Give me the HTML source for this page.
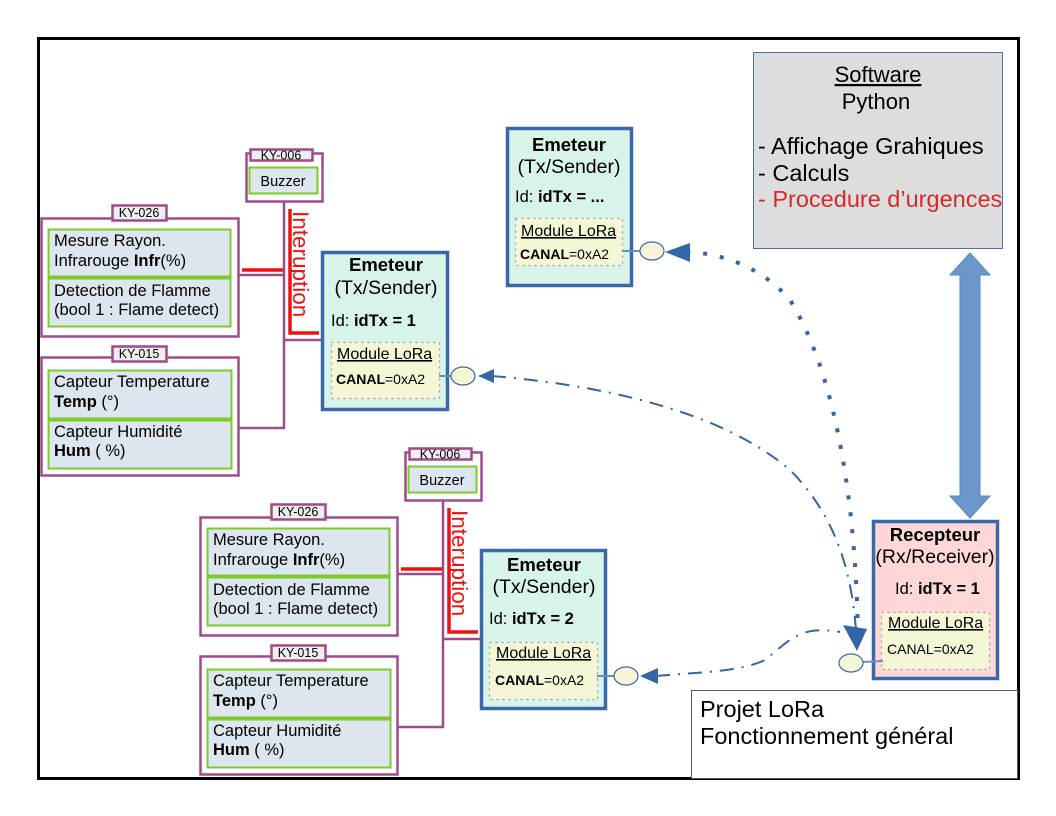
<!DOCTYPE html>
<html><head><meta charset="utf-8"><style>
html,body{margin:0;padding:0;background:#fff}
svg{display:block}
text{font-family:"Liberation Sans",sans-serif}
</style></head><body>
<svg width="1056" height="816" viewBox="0 0 1056 816" xmlns="http://www.w3.org/2000/svg">
<rect x="0" y="0" width="1056" height="816" fill="#fff"/>
<rect x="38.5" y="38.5" width="980" height="740" fill="#fff" stroke="#000" stroke-width="3"/>

<!-- Software box -->
<rect x="753.5" y="52.5" width="249" height="196" fill="#dddddd" stroke="#4a70a8" stroke-width="1"/>
<text x="878" y="82" font-size="22" text-anchor="middle" text-decoration="underline">Software</text>
<text x="876" y="109" font-size="22" text-anchor="middle">Python</text>
<text x="758" y="154" font-size="23.5">- Affichage Grahiques</text>
<text x="758" y="181" font-size="23.5">- Calculs</text>
<text x="758" y="207" font-size="23.5" fill="#d42a2a">- Procedure d’urgences</text>

<!-- Double arrow -->
<polygon points="970,253 990,275 980,275 980,496 990,496 970,518 950,496 960,496 960,275 950,275" fill="#6b97ca" stroke="#5a84b8" stroke-width="1"/>

<!-- connectors -->
<path d="M858,635 C856,520 840,380 790,300 C760,265 720,254 690,252" fill="none" stroke="#3465a4" stroke-width="4" stroke-dasharray="4,13"/>
<polygon points="665,252 690,243 690,262" fill="#3465a4"/>
<path d="M492,376 C600,385 720,410 790,470 C840,520 852,580 856,630" fill="none" stroke="#3465a4" stroke-width="2" stroke-dasharray="14,8,2,8"/>
<polygon points="478,376 494,369 494,383" fill="#3465a4"/>
<polygon points="843,625 867,629 857,651" fill="#3465a4"/>
<path d="M656,676 C700,672 740,672 765,660 C790,640 800,625 840,632" fill="none" stroke="#3465a4" stroke-width="2" stroke-dasharray="14,8,2,8"/>
<polygon points="640,676 658,668 658,684" fill="#3465a4"/>

<!-- Emeteur top -->
<rect x="507.5" y="128.5" width="124" height="157" fill="#d8f3ea" stroke="#3a68a8" stroke-width="3.5"/>
<text x="569" y="151" font-size="18.5" font-weight="bold" text-anchor="middle">Emeteur</text>
<text x="569" y="173" font-size="19.5" text-anchor="middle">(Tx/Sender)</text>
<text x="515" y="202" font-size="16.5">Id: <tspan font-weight="bold">idTx = ...</tspan></text>
<rect x="515.5" y="218.5" width="107" height="47" fill="#f5f6d6" stroke="#999" stroke-width="1.2" stroke-dasharray="2,4"/>
<text x="521" y="236" font-size="16" text-decoration="underline">Module LoRa</text>
<text x="520" y="259" font-size="14"><tspan font-weight="bold">CANAL</tspan>=0xA2</text>
<line x1="622" y1="251" x2="640" y2="251" stroke="#6a8fbf" stroke-width="2"/>
<ellipse cx="652" cy="251" rx="12" ry="9" fill="#f5f6d6" stroke="#3a68a8" stroke-width="1.2"/>

<!-- Emeteur 1 -->
<rect x="322.5" y="252.5" width="125" height="157" fill="#d8f3ea" stroke="#3a68a8" stroke-width="3.5"/>
<text x="386" y="271" font-size="18.5" font-weight="bold" text-anchor="middle">Emeteur</text>
<text x="386" y="294" font-size="19.5" text-anchor="middle">(Tx/Sender)</text>
<text x="331" y="326" font-size="16.5">Id: <tspan font-weight="bold">idTx = 1</tspan></text>
<rect x="331.5" y="342.5" width="108" height="56" fill="#f5f6d6" stroke="#999" stroke-width="1.2" stroke-dasharray="2,4"/>
<text x="337" y="359" font-size="16" text-decoration="underline">Module LoRa</text>
<text x="336" y="384" font-size="14"><tspan font-weight="bold">CANAL</tspan>=0xA2</text>
<line x1="439" y1="376" x2="452" y2="376" stroke="#6a8fbf" stroke-width="2"/>
<ellipse cx="463" cy="376" rx="12" ry="9" fill="#f5f6d6" stroke="#3a68a8" stroke-width="1.2"/>

<!-- Emeteur 2 -->
<rect x="481.5" y="550.5" width="124" height="158" fill="#d8f3ea" stroke="#3a68a8" stroke-width="3.5"/>
<text x="544" y="571" font-size="18.5" font-weight="bold" text-anchor="middle">Emeteur</text>
<text x="544" y="593" font-size="19.5" text-anchor="middle">(Tx/Sender)</text>
<text x="489" y="624" font-size="16.5">Id: <tspan font-weight="bold">idTx = 2</tspan></text>
<rect x="489.5" y="642.5" width="108" height="57" fill="#f5f6d6" stroke="#999" stroke-width="1.2" stroke-dasharray="2,4"/>
<text x="496" y="658" font-size="16" text-decoration="underline">Module LoRa</text>
<text x="495" y="685" font-size="14"><tspan font-weight="bold">CANAL</tspan>=0xA2</text>
<line x1="597" y1="676" x2="614" y2="676" stroke="#6a8fbf" stroke-width="2"/>
<ellipse cx="626" cy="676" rx="12" ry="9" fill="#f5f6d6" stroke="#3a68a8" stroke-width="1.2"/>

<!-- Recepteur -->
<rect x="873.5" y="521.5" width="124" height="157" fill="#ffd7d7" stroke="#3a68a8" stroke-width="3.5"/>
<text x="935" y="541" font-size="18.5" font-weight="bold" text-anchor="middle">Recepteur</text>
<text x="935" y="563" font-size="19.5" text-anchor="middle">(Rx/Receiver)</text>
<text x="895" y="594" font-size="16.5">Id: <tspan font-weight="bold">idTx = 1</tspan></text>
<rect x="881.5" y="612.5" width="108" height="57" fill="#f5f6d6" stroke="#999" stroke-width="1.2" stroke-dasharray="2,4"/>
<text x="888" y="628" font-size="16" text-decoration="underline">Module LoRa</text>
<text x="887" y="654" font-size="14">CANAL=0xA2</text>
<line x1="862" y1="662" x2="883" y2="661" stroke="#6a8fbf" stroke-width="2"/>
<ellipse cx="851" cy="663" rx="12" ry="9" fill="#f5f6d6" stroke="#3a68a8" stroke-width="1.2"/>

<!-- Title box -->
<rect x="691.5" y="690.5" width="326" height="88" fill="#fff" stroke="#555" stroke-width="1"/>
<text x="700" y="717" font-size="23.5">Projet LoRa</text>
<text x="700" y="744" font-size="23.5">Fonctionnement général</text>

<defs>
<g id="grp">
  <path d="M284,201 V428 H238" fill="none" stroke="#a04a8a" stroke-width="2.5"/>
  <path d="M238,275 H284" fill="none" stroke="#a04a8a" stroke-width="2.5"/>
  <path d="M284,340 H321" fill="none" stroke="#a04a8a" stroke-width="2.5"/>
  <path d="M242,270 H283" stroke="#ee1111" stroke-width="3.5"/>
  <path d="M290,209 V333 H319" fill="none" stroke="#ee1111" stroke-width="3.5"/>
  <text transform="translate(293,211) rotate(90)" font-size="22.5" fill="#ee1111">Interuption</text>
  <rect x="246.5" y="153.5" width="76" height="48" fill="#fff" stroke="#a04a8a" stroke-width="2.5"/>
  <rect x="250.5" y="149.5" width="62" height="11" fill="#eee" stroke="#a04a8a" stroke-width="2.5"/>
  <text x="281" y="159.5" font-size="12.5" text-anchor="middle">KY-006</text>
  <rect x="249.5" y="167.5" width="68" height="26" fill="#dde5ee" stroke="#7ccb2a" stroke-width="2"/>
  <text x="283" y="186" font-size="14.5" text-anchor="middle">Buzzer</text>
  <rect x="41.5" y="218.5" width="197" height="118" fill="#fff" stroke="#a04a8a" stroke-width="2.5"/>
  <rect x="112.5" y="205.5" width="54" height="15" fill="#eee" stroke="#a04a8a" stroke-width="2.5"/>
  <text x="139" y="217" font-size="12.5" text-anchor="middle">KY-026</text>
  <rect x="48.5" y="229.5" width="182" height="47" fill="#dde5ee" stroke="#7ccb2a" stroke-width="2"/>
  <rect x="48.5" y="278.5" width="182" height="48" fill="#dde5ee" stroke="#7ccb2a" stroke-width="2"/>
  <text x="54" y="246" font-size="16.5">Mesure Rayon.</text>
  <text x="54" y="266" font-size="16.5">Infrarouge <tspan font-weight="bold">Infr</tspan>(%)</text>
  <text x="54" y="296" font-size="16.5">Detection de Flamme</text>
  <text x="54" y="315" font-size="16.5">(bool 1 : Flame detect)</text>
  <rect x="41.5" y="357.5" width="197" height="118" fill="#fff" stroke="#a04a8a" stroke-width="2.5"/>
  <rect x="112.5" y="346.5" width="54" height="15" fill="#eee" stroke="#a04a8a" stroke-width="2.5"/>
  <text x="139" y="358" font-size="12.5" text-anchor="middle">KY-015</text>
  <rect x="48.5" y="370.5" width="183" height="48" fill="#dde5ee" stroke="#7ccb2a" stroke-width="2"/>
  <rect x="48.5" y="420.5" width="183" height="48" fill="#dde5ee" stroke="#7ccb2a" stroke-width="2"/>
  <text x="54" y="387" font-size="16.5">Capteur Temperature</text>
  <text x="54" y="407" font-size="16.5"><tspan font-weight="bold">Temp</tspan> (°)</text>
  <text x="54" y="437" font-size="16.5">Capteur Humidité</text>
  <text x="54" y="456" font-size="16.5"><tspan font-weight="bold">Hum</tspan> ( %)</text>
</g>
</defs>
<use href="#grp"/>
<use href="#grp" transform="translate(159,299)"/>
</svg>
</body></html>
